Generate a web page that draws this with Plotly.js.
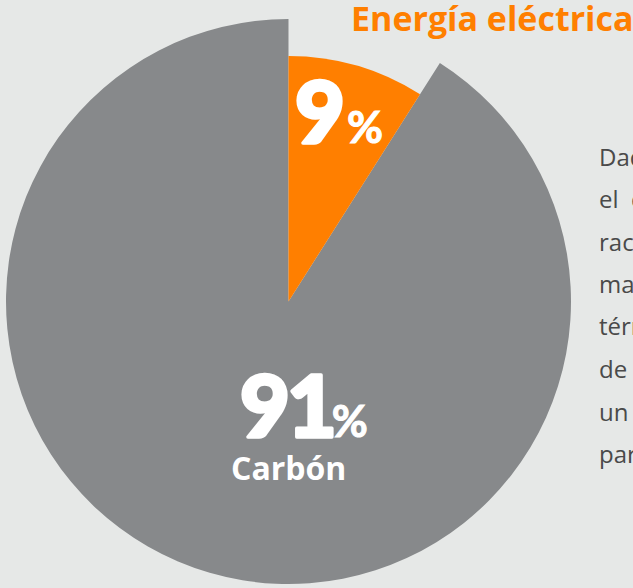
<!DOCTYPE html>
<html>
<head>
<meta charset="utf-8">
<script src="https://cdn.plot.ly/plotly-3.0.1.min.js"></script>
<style>html,body{margin:0;padding:0;background:#e6e8e7;overflow:hidden}#chart{width:633px;height:588px}</style>
</head>
<body>
<div id="chart"></div>
<script>
// Data
const categories = ["Energía eléctrica", "Carbón"];
const values = [9, 91];
const pctLabels = ["9", "91"];
const titleText = "Energía eléctrica";
const sideText = ["Dado que", "el&nbsp;&nbsp;carbón", "racional", "mayor", "térmica", "de carbón", "un mayor", "para el país"];

const W = 633, H = 588;
const px = x => x / W;
const py = y => 1 - y / H;

const ORANGE = "#ff7f00";
const GRAY = "#87898b";
const BG = "#e6e8e7";
const cx = 288.5, cy = 301.5, rBig = 282.5, rSmall = 245.5;

function dom(r) {
  return { x: [px(cx - r), px(cx + r)], y: [py(cy + r), py(cy - r)] };
}

const common = {
  type: "pie", labels: categories, values: values, sort: false,
  direction: "clockwise", rotation: 0, textinfo: "none", hoverinfo: "skip",
  showlegend: false
};

const data = [
  Object.assign({}, common, { domain: dom(rBig),
    marker: { colors: ["rgba(0,0,0,0)", GRAY], line: { width: 0 } } }),
  Object.assign({}, common, { domain: dom(rSmall),
    marker: { colors: [ORANGE, "rgba(0,0,0,0)"], line: { width: 0 } } })
];

const digitStyle = ls => 'font-size:86px;font-weight:900;stroke:#ffffff;stroke-width:3.5px;stroke-linejoin:round;letter-spacing:' + ls + 'px';
const pctStyle = 'font-size:44px;font-weight:700;stroke:#ffffff;stroke-width:1px';
const bigNum = (t, spacings) => t.split("").map((ch, i) =>
  '<span style="' + digitStyle(spacings[i]) + '">' + ch + '</span>').join("") +
  '<span style="' + pctStyle + '">%</span>';

const annotations = [];
annotations.push({ xref: "paper", yref: "paper", x: px(349), y: py(18), xanchor: "left", yanchor: "middle",
  showarrow: false, text: "<b>" + titleText + "</b>",
  font: { family: "Open Sans, sans-serif", size: 34, color: ORANGE } });

annotations.push({ xref: "paper", yref: "paper", x: px(293), y: py(110), xanchor: "left", yanchor: "middle",
  showarrow: false, text: bigNum(pctLabels[0], [2]),
  font: { family: "Lato, sans-serif", size: 44, color: "#ffffff" } });

annotations.push({ xref: "paper", yref: "paper", x: px(238), y: py(403), xanchor: "left", yanchor: "middle",
  showarrow: false, text: bigNum(pctLabels[1], [-3, -5]),
  font: { family: "Lato, sans-serif", size: 44, color: "#ffffff" } });

annotations.push({ xref: "paper", yref: "paper", x: px(288), y: py(467), xanchor: "center", yanchor: "middle",
  showarrow: false, text: "<b>" + categories[1] + "</b>",
  font: { family: "Open Sans, sans-serif", size: 32, color: "#ffffff" } });

sideText.forEach((t, i) => {
  annotations.push({ xref: "paper", yref: "paper", x: px(597), y: py(156 + i * 42.5), xanchor: "left", yanchor: "middle",
    showarrow: false, text: t,
    font: { family: "Open Sans, sans-serif", size: 24, color: "#4a4a4a" } });
});

const layout = {
  width: W, height: H, margin: { l: 0, r: 0, t: 0, b: 0 },
  paper_bgcolor: BG, plot_bgcolor: BG, showlegend: false,
  annotations: annotations
};

Plotly.newPlot("chart", data, layout, { displayModeBar: false, staticPlot: true });
</script>
</body>
</html>
